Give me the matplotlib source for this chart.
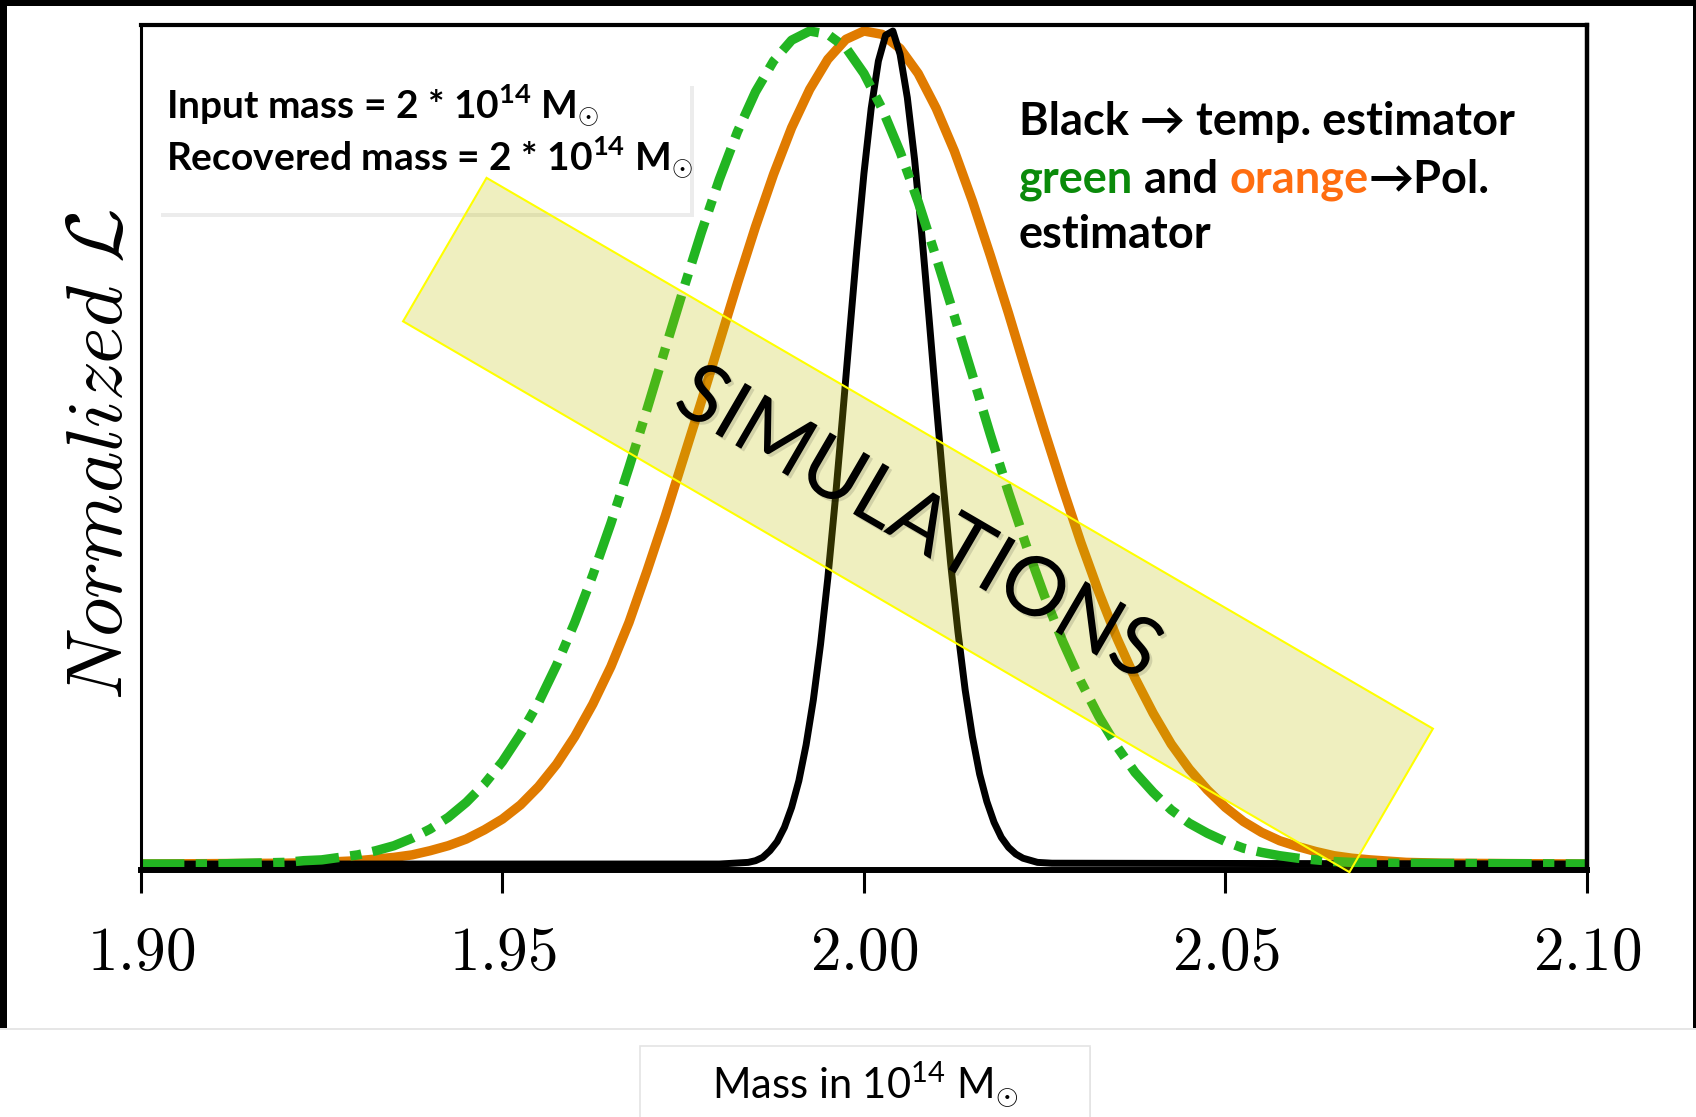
import matplotlib.pyplot as plt
import matplotlib.patheffects as pe
from matplotlib.patches import Rectangle

plt.rcParams['mathtext.fontset'] = 'cm'
plt.rcParams['mathtext.rm'] = 'Lato'
plt.rcParams['mathtext.bf'] = 'Lato:bold'
plt.rcParams['font.family'] = ['Lato', 'DejaVu Sans']

# x axis ticks
xticks = [1.90, 1.95, 2.00, 2.05, 2.10]
xtick_labels = ['1.90', '1.95', '2.00', '2.05', '2.10']

# temperature estimator (black)
black_x = [1.900, 1.980, 1.984, 1.985, 1.986, 1.987, 1.988, 1.989, 1.990, 1.991,
           1.992, 1.993, 1.994, 1.995, 1.996, 1.997, 1.998, 1.999, 2.000, 2.001,
           2.002, 2.003, 2.004, 2.005, 2.006, 2.007, 2.008, 2.009, 2.010, 2.011,
           2.012, 2.013, 2.014, 2.015, 2.016, 2.017, 2.018, 2.019, 2.020, 2.021,
           2.022, 2.024, 2.026, 2.100]
black_y = [0, 0, 0.002, 0.004, 0.008, 0.016, 0.027, 0.044, 0.068, 0.100,
           0.143, 0.197, 0.264, 0.343, 0.434, 0.533, 0.635, 0.736, 0.829, 0.907,
           0.964, 0.995, 1.000, 0.972, 0.920, 0.846, 0.756, 0.656, 0.553, 0.453,
           0.360, 0.279, 0.209, 0.153, 0.108, 0.075, 0.050, 0.032, 0.020, 0.012,
           0.007, 0.002, 0.001, 0]

# polarisation estimator (orange)
orange_x = [1.900, 1.920, 1.925, 1.9275, 1.930, 1.9325, 1.935, 1.9375, 1.940, 1.9425,
            1.945, 1.9475, 1.950, 1.9525, 1.955, 1.9575, 1.960, 1.9625, 1.965, 1.9675,
            1.970, 1.9725, 1.975, 1.9775, 1.980, 1.9825, 1.985, 1.9875, 1.990, 1.9925,
            1.995, 1.9975, 2.000, 2.0025, 2.005, 2.0075, 2.010, 2.0125, 2.015, 2.0175,
            2.020, 2.0225, 2.025, 2.0275, 2.030, 2.0325, 2.035, 2.0375, 2.040, 2.0425,
            2.045, 2.0475, 2.050, 2.0525, 2.055, 2.0575, 2.060, 2.0625, 2.065, 2.0675,
            2.070, 2.075, 2.080, 2.100]
orange_y = [0, 0.001, 0.002, 0.003, 0.004, 0.006, 0.008, 0.011, 0.016, 0.022,
            0.030, 0.041, 0.054, 0.071, 0.093, 0.120, 0.153, 0.192, 0.237, 0.290,
            0.352, 0.417, 0.486, 0.555, 0.626, 0.697, 0.765, 0.828, 0.884, 0.930,
            0.966, 0.990, 1.000, 0.996, 0.979, 0.949, 0.907, 0.856, 0.796, 0.730,
            0.661, 0.589, 0.519, 0.451, 0.386, 0.326, 0.271, 0.223, 0.181, 0.144,
            0.114, 0.089, 0.068, 0.051, 0.038, 0.028, 0.021, 0.015, 0.010, 0.007,
            0.005, 0.002, 0.001, 0]

# polarisation estimator (green, dash-dot)
green_x = [1.900, 1.910, 1.915, 1.920, 1.9225, 1.925, 1.9275, 1.930, 1.9325, 1.935,
           1.9375, 1.940, 1.9425, 1.945, 1.9475, 1.950, 1.9525, 1.955, 1.9575, 1.960,
           1.9625, 1.965, 1.9675, 1.970, 1.9725, 1.975, 1.9775, 1.980, 1.9825, 1.985,
           1.9875, 1.990, 1.9925, 1.995, 1.9975, 2.000, 2.0025, 2.005, 2.0075, 2.010,
           2.0125, 2.015, 2.0175, 2.020, 2.0225, 2.025, 2.0275, 2.030, 2.0325, 2.035,
           2.0375, 2.040, 2.0425, 2.045, 2.0475, 2.050, 2.0525, 2.055, 2.0575, 2.060,
           2.0625, 2.065, 2.070, 2.100]
green_y = [0, 0, 0.001, 0.002, 0.004, 0.005, 0.008, 0.011, 0.016, 0.022,
           0.031, 0.042, 0.056, 0.074, 0.096, 0.123, 0.156, 0.194, 0.239, 0.290,
           0.347, 0.409, 0.476, 0.546, 0.618, 0.689, 0.758, 0.822, 0.879, 0.927,
           0.964, 0.989, 1.000, 0.996, 0.980, 0.949, 0.907, 0.855, 0.795, 0.728,
           0.658, 0.587, 0.515, 0.446, 0.381, 0.321, 0.267, 0.219, 0.177, 0.141,
           0.110, 0.086, 0.065, 0.049, 0.037, 0.027, 0.019, 0.014, 0.010, 0.007,
           0.005, 0.003, 0.001, 0]

fig = plt.figure(figsize=(16.96, 11.17), dpi=100, facecolor='white')
ax = fig.add_axes([0.0831, 0.2211, 0.8526, 0.7565])

ax.plot(orange_x, orange_y, color='#E07B00', lw=6.8, zorder=2)
ax.plot(black_x, black_y, color='black', lw=5.0, zorder=2.1)
ax.plot(green_x, green_y, color='#22B522', lw=6.8, zorder=2.2,
        ls=(0, (4.6, 1.2, 1.2, 1.2)), dash_capstyle='butt')

ax.set_xlim(1.90, 2.10)
ax.set_ylim(-0.0072, 1.0072)
ax.set_yticks([])
ax.set_xticks(xticks, labels=['$' + s + '$' for s in xtick_labels])
ax.tick_params(axis='x', direction='out', length=16.5, width=2.2, pad=22,
               labelsize=44)
ax.spines['bottom'].set_linewidth(4.3)
ax.spines['top'].set_linewidth(3)
ax.spines['left'].set_linewidth(2.2)
ax.spines['right'].set_linewidth(3.2)

ax.text(-0.028, 0.492, r'$Normalized\ \mathcal{L}$', transform=ax.transAxes,
        rotation=90, ha='center', va='center', fontsize=57)

# info box top-left
box = Rectangle((0.0926, 0.8093), 0.3142, 0.1173, transform=fig.transFigure,
                facecolor='white', edgecolor='none', zorder=3,
                path_effects=[pe.SimplePatchShadow(offset=(3, -3), alpha=0.10), pe.Normal()])
box.set_clip_on(False)
ax.add_patch(box)
ax.text(0.0979, 0.8944, r'Input mass = 2 * 10$^{\mathbf{14}}$ M$_{\odot}$',
        transform=fig.transFigure, fontsize=28, fontweight='bold',
        math_fontfamily='custom', zorder=4)
ax.text(0.0979, 0.8478, r'Recovered mass = 2 * 10$^{\mathbf{14}}$ M$_{\odot}$',
        transform=fig.transFigure, fontsize=28, fontweight='bold',
        math_fontfamily='custom', zorder=4)

# legend-like text on the right
kw = dict(fontsize=32.5, fontweight='bold', zorder=4)
ax.text(0.6008, 0.8791, 'Black → temp. estimator', transform=fig.transFigure, **kw)
t1 = ax.text(0.6008, 0.8281, 'green', color='#0A8A0A', transform=fig.transFigure, **kw)
t2 = ax.annotate(' and ', xy=(1, 0), xycoords=t1, va='bottom', color='black', **kw)
t3 = ax.annotate('orange', xy=(1, 0), xycoords=t2, va='bottom', color='#FF6D10', **kw)
ax.annotate('→Pol.', xy=(1, 0), xycoords=t3, va='bottom', color='black', **kw)
ax.text(0.6008, 0.7780, 'estimator', transform=fig.transFigure, **kw)

# SIMULATIONS banner
banner = Rectangle((3.705, 5.09), 10.95, 1.66, angle=-30.2, rotation_point='center',
                   transform=fig.dpi_scale_trans, facecolor='#C0C000', alpha=0.25,
                   edgecolor='none', zorder=5)
banner.set_clip_on(False)
ax.add_patch(banner)
edge = Rectangle((3.705, 5.09), 10.95, 1.66, angle=-30.2, rotation_point='center',
                 transform=fig.dpi_scale_trans, facecolor='none',
                 edgecolor='#FFFF00', lw=1.5, zorder=5.1)
edge.set_clip_on(False)
ax.add_patch(edge)
ax.text(9.18, 5.92, 'SIMULATIONS', transform=fig.dpi_scale_trans, rotation=-30.2,
        rotation_mode='anchor', ha='center', va='center', fontsize=59, zorder=6,
        path_effects=[pe.SimplePatchShadow(offset=(2, -2), alpha=0.12), pe.Normal()])

# slide frame
fig.patches.append(Rectangle((0, 0.9946), 1, 0.0054, transform=fig.transFigure,
                             facecolor='black', edgecolor='none'))
fig.patches.append(Rectangle((0, 0.0788), 0.0041, 0.9212, transform=fig.transFigure,
                             facecolor='black', edgecolor='none'))
fig.patches.append(Rectangle((0.9982, 0.0788), 0.0018, 0.9212, transform=fig.transFigure,
                             facecolor='black', edgecolor='none'))
fig.patches.append(Rectangle((0, 0.0779), 1, 0.0018, transform=fig.transFigure,
                             facecolor='#E6E6E6', edgecolor='none'))

# x label box
fig.patches.append(Rectangle((0.3774, -0.01), 0.2653, 0.0736, transform=fig.transFigure,
                             facecolor='white', edgecolor='#E4E4E4', lw=1.2,
                             path_effects=[pe.SimplePatchShadow(offset=(1, -1), alpha=0.15),
                                           pe.Normal()]))
fig.text(0.510, 0.017, r'Mass in 10$^{14}$ M$_{\odot}$', ha='center', va='baseline',
         fontsize=30, math_fontfamily='custom')

fig.savefig('out.png', dpi=100, facecolor='white')
